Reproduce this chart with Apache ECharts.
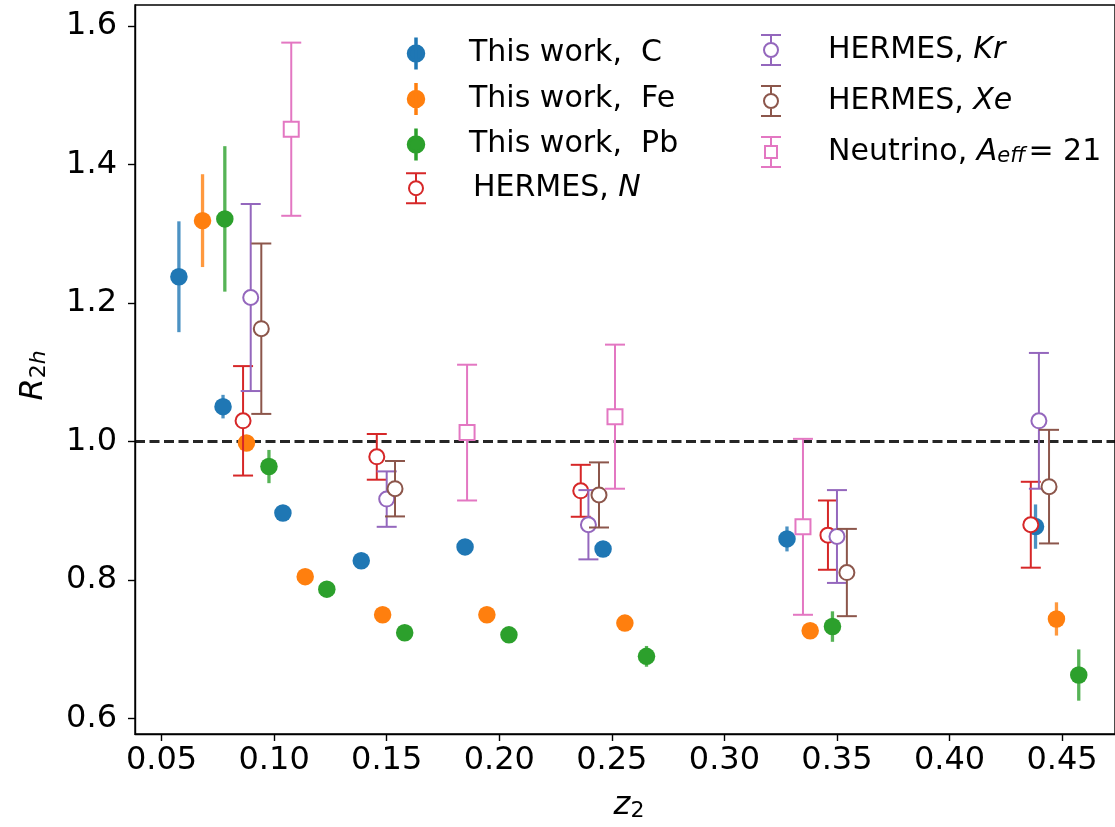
<!DOCTYPE html>
<html>
<head>
<meta charset="utf-8">
<script src="https://cdn.jsdelivr.net/npm/echarts@6/dist/echarts.min.js"></script>
<style>
html,body{margin:0;padding:0;background:#fff;}
#chart{width:1115px;height:827px;}
</style>
</head>
<body>
<div id="chart"></div>
<script>
// ---- data ----
const xTicks = [0.05, 0.10, 0.15, 0.20, 0.25, 0.30, 0.35, 0.40, 0.45];
const yTicks = [0.6, 0.8, 1.0, 1.2, 1.4, 1.6];

const cX   = [0.0577, 0.0773, 0.1039, 0.1387, 0.1848, 0.2461, 0.3278, 0.4382];
const cY   = [1.238, 1.0505, 0.897, 0.828, 0.848, 0.845, 0.8595, 0.8773];
const cErr = [0.080, 0.017, 0.006, 0.006, 0.006, 0.008, 0.018, 0.032];

const feX   = [0.0682, 0.0877, 0.1138, 0.1482, 0.1945, 0.2558, 0.3381, 0.4475];
const feY   = [1.319, 0.998, 0.805, 0.750, 0.750, 0.738, 0.727, 0.744];
const feErr = [0.067, 0.006, 0.006, 0.006, 0.006, 0.006, 0.010, 0.024];

const pbX   = [0.0781, 0.0977, 0.1234, 0.1580, 0.2043, 0.2654, 0.3480, 0.4574];
const pbY   = [1.3215, 0.964, 0.787, 0.724, 0.721, 0.690, 0.733, 0.663];
const pbErr = [0.105, 0.024, 0.010, 0.006, 0.008, 0.015, 0.022, 0.037];

const nX   = [0.0862, 0.1456, 0.2362, 0.3460, 0.4361];
const nY   = [1.030, 0.978, 0.929, 0.865, 0.880];
const nErr = [0.079, 0.033, 0.0375, 0.050, 0.062];

const krX   = [0.0896, 0.1500, 0.2396, 0.3500, 0.4397];
const krY   = [1.208, 0.917, 0.880, 0.863, 1.030];
const krErr = [0.135, 0.040, 0.050, 0.067, 0.098];

const xeX   = [0.0943, 0.1537, 0.2443, 0.3544, 0.4442];
const xeY   = [1.163, 0.932, 0.923, 0.811, 0.935];
const xeErr = [0.123, 0.040, 0.047, 0.063, 0.082];

const nuX   = [0.1076, 0.1857, 0.2514, 0.3349];
const nuY   = [1.451, 1.013, 1.036, 0.877];
const nuErr = [0.125, 0.098, 0.104, 0.127];

const refLine = 1.0;

// ---- styling / building ----
const FONT = 'DejaVu Sans';
function circ(cx, cy, r) {
  const k = 0.5523 * r;
  return 'M' + (cx + r) + ' ' + cy +
    ' C' + (cx + r) + ' ' + (cy + k) + ' ' + (cx + k) + ' ' + (cy + r) + ' ' + cx + ' ' + (cy + r) +
    ' C' + (cx - k) + ' ' + (cy + r) + ' ' + (cx - r) + ' ' + (cy + k) + ' ' + (cx - r) + ' ' + cy +
    ' C' + (cx - r) + ' ' + (cy - k) + ' ' + (cx - k) + ' ' + (cy - r) + ' ' + cx + ' ' + (cy - r) +
    ' C' + (cx + k) + ' ' + (cy - r) + ' ' + (cx + r) + ' ' + (cy - k) + ' ' + (cx + r) + ' ' + cy + ' Z';
}
const iconFilled = 'path://' + circ(10, 16, 7.5) + ' M10 0 L10 32';
const iconOpenCircle = 'path://' + circ(10, 16, 7) + ' M10 1 L10 9 M10 23 L10 31 M0 1 L20 1 M0 31 L20 31';
const iconOpenSquare = 'path://M4 10 L16 10 L16 22 L4 22 Z M10 1 L10 10 M10 22 L10 31 M0 1 L20 1 M0 31 L20 31';

const sets = [
  {name: 'This work,  C',  xs: cX,  ys: cY,  es: cErr,  color: '#1f77b4', open: false, sym: 'circle', cap: 0},
  {name: 'This work,  Fe', xs: feX, ys: feY, es: feErr, color: '#ff7f0e', open: false, sym: 'circle', cap: 0},
  {name: 'This work,  Pb', xs: pbX, ys: pbY, es: pbErr, color: '#2ca02c', open: false, sym: 'circle', cap: 0},
  {name: 'HERMES, N',  xs: nX,  ys: nY,  es: nErr,  color: '#d62728', open: true, sym: 'circle', cap: 10},
  {name: 'HERMES, Kr', xs: krX, ys: krY, es: krErr, color: '#9467bd', open: true, sym: 'circle', cap: 10},
  {name: 'HERMES, Xe', xs: xeX, ys: xeY, es: xeErr, color: '#8c564b', open: true, sym: 'circle', cap: 10},
  {name: 'Neutrino, A_eff = 21', xs: nuX, ys: nuY, es: nuErr, color: '#e377c2', open: true, sym: 'rect', cap: 10}
];

const series = [];
series.push({
  type: 'line', name: 'ref', data: [], z: 0, silent: true,
  markLine: {
    silent: true, symbol: ['none', 'none'], label: {show: false},
    lineStyle: {type: [10, 4.5], width: 2.8, color: '#000', opacity: 0.85},
    data: [{yAxis: refLine}], animation: false
  }
});
sets.forEach((s, i) => {
  const errData = s.xs.map((x, j) => [x, s.ys[j], s.es[j]]);
  const ptData = s.xs.map((x, j) => [x, s.ys[j]]);
  const lw = s.open ? 2 : 3.3;
  const op = s.open ? 1 : 0.8;
  series.push({
    type: 'custom', name: s.name + ' (err)', z: 2 + 2 * i, silent: true,
    data: errData, encode: {x: 0, y: 1},
    renderItem: function (params, api) {
      const x = api.value(0), y = api.value(1), e = api.value(2);
      const top = api.coord([x, y + e]);
      const bot = api.coord([x, y - e]);
      const st = {stroke: s.color, lineWidth: lw, opacity: op};
      const children = [{type: 'line', shape: {x1: top[0], y1: top[1], x2: bot[0], y2: bot[1]}, style: st}];
      if (s.cap > 0) {
        children.push({type: 'line', shape: {x1: top[0] - s.cap, y1: top[1], x2: top[0] + s.cap, y2: top[1]}, style: st});
        children.push({type: 'line', shape: {x1: bot[0] - s.cap, y1: bot[1], x2: bot[0] + s.cap, y2: bot[1]}, style: st});
      }
      return {type: 'group', children: children};
    }
  });
  series.push({
    type: 'scatter', name: s.name, z: 3 + 2 * i, silent: true,
    data: ptData,
    symbol: s.sym,
    symbolSize: s.open ? 15 : 17.5,
    itemStyle: s.open ? {color: '#fff', borderColor: s.color, borderWidth: 2, opacity: 1}
                      : {color: s.color, opacity: 1}
  });
});

function legendData(list) {
  return list.map(n => {
    const s = sets.find(t => t.name === n);
    let icon = iconFilled;
    let style = {color: s.color, borderColor: s.color, borderWidth: 3.5};
    if (s.open) {
      icon = s.sym === 'rect' ? iconOpenSquare : iconOpenCircle;
      style = {color: '#fff', borderColor: s.color, borderWidth: 2};
    }
    return {name: n, icon: icon, itemStyle: style};
  });
}
const LF = 30;
const legendRich = {
  pa: {width: 38, fontSize: LF, lineHeight: LF},
  pb: {width: 42, fontSize: LF, lineHeight: LF},
  gap: {width: 3, fontSize: LF, lineHeight: LF},
  t: {fontFamily: FONT, fontSize: LF, lineHeight: LF, color: '#000'},
  i: {fontFamily: FONT, fontSize: LF, lineHeight: LF, color: '#000', fontStyle: 'italic'},
  sub: {fontFamily: FONT, fontSize: 21, lineHeight: 17, color: '#000', fontStyle: 'italic', verticalAlign: 'bottom'}
};
function legendFmt(name) {
  if (name.indexOf('This work') === 0) return '{pa|}{t|' + name + '}';
  if (name.indexOf('HERMES') === 0) {
    const el = name.split(', ')[1];
    return '{pb|}{t|HERMES, }{i|' + el + '}';
  }
  return '{pb|}{t|Neutrino, }{i|A}{sub|eff}{gap|}{t|= 21}';
}

const option = {
  animation: false,
  backgroundColor: '#fff',
  grid: {left: 135, top: 5, width: 982, height: 729, show: true, borderColor: '#000', borderWidth: 1.4, backgroundColor: 'transparent'},
  xAxis: {
    type: 'value', min: 0.0382, max: 0.4735,
    axisLine: {show: true, lineStyle: {color: '#000', width: 1.4}},
    axisTick: {show: true, inside: false, length: 7, lineStyle: {color: '#000', width: 1.4}, customValues: xTicks},
    axisLabel: {show: true, margin: 11, fontFamily: FONT, fontSize: 32, color: '#000', customValues: xTicks,
      formatter: v => v.toFixed(2)},
    splitLine: {show: false},
    name: '{i|z}{s|2}', nameLocation: 'middle', nameGap: 56,
    nameTextStyle: {padding: [0, 0, 0, 8], rich: {
      i: {fontFamily: FONT, fontSize: 32, lineHeight: 32, fontStyle: 'italic', color: '#000'},
      s: {fontFamily: FONT, fontSize: 22, lineHeight: 12, verticalAlign: 'bottom', color: '#000'}
    }}
  },
  yAxis: {
    type: 'value', min: 0.5779, max: 1.6303,
    axisLine: {show: true, lineStyle: {color: '#000', width: 1.4}},
    axisTick: {show: true, inside: false, length: 7, lineStyle: {color: '#000', width: 1.4}, customValues: yTicks},
    axisLabel: {show: true, margin: 18, fontFamily: FONT, fontSize: 32, color: '#000', customValues: yTicks,
      formatter: v => v.toFixed(1)},
    splitLine: {show: false},
    name: '{i|R}{s|2}{si|h}', nameLocation: 'middle', nameGap: 85, nameRotate: 90,
    nameTextStyle: {padding: [0, 12, 0, 0], rich: {
      i: {fontFamily: FONT, fontSize: 32, lineHeight: 32, fontStyle: 'italic', color: '#000'},
      s: {fontFamily: FONT, fontSize: 22, lineHeight: 12, verticalAlign: 'bottom', color: '#000'},
      si: {fontFamily: FONT, fontSize: 22, lineHeight: 12, verticalAlign: 'bottom', fontStyle: 'italic', color: '#000'}
    }}
  },
  legend: [
    {
      orient: 'vertical', left: 405, top: 35.7, padding: 0, itemGap: 10,
      itemWidth: 20, itemHeight: 32, selectedMode: false, symbolKeepAspect: true,
      data: legendData(['This work,  C', 'This work,  Fe', 'This work,  Pb', 'HERMES, N']),
      formatter: legendFmt,
      textStyle: {fontFamily: FONT, fontSize: LF, color: '#000', rich: legendRich}
    },
    {
      orient: 'vertical', left: 760, top: 34, padding: 0, itemGap: 19,
      itemWidth: 20, itemHeight: 32, selectedMode: false, symbolKeepAspect: true,
      data: legendData(['HERMES, Kr', 'HERMES, Xe', 'Neutrino, A_eff = 21']),
      formatter: legendFmt,
      textStyle: {fontFamily: FONT, fontSize: LF, color: '#000', rich: legendRich}
    }
  ],
  series: series
};

const chart = echarts.init(document.getElementById('chart'), null, {renderer: 'canvas'});
chart.setOption(option);
</script>
</body>
</html>
